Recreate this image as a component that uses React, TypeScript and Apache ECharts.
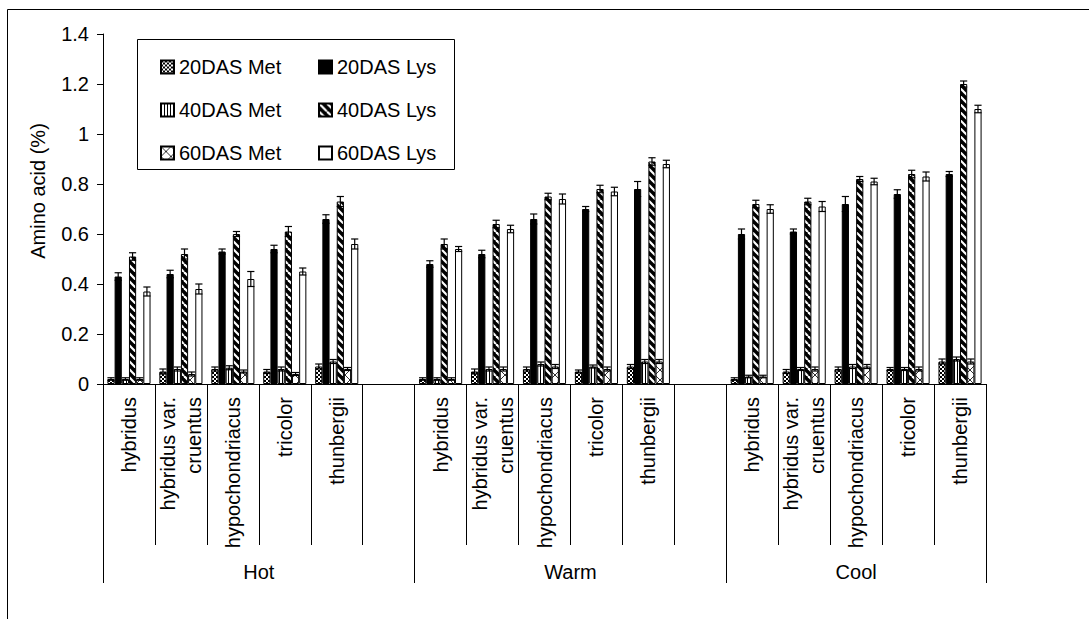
import React, { useEffect, useRef } from 'react';
import * as echarts from 'echarts';

const species = ['hybridus', 'hybridus var.\ncruentus', 'hypochondriacus', 'tricolor', 'thunbergii'];
const categories = [...species, '', ...species, '', ...species];
const groups = ['Hot', 'Warm', 'Cool'];
const groupBounds = [0, 6, 12, 17];
const groupCenters = [3, 9, 14.5];
const seriesNames = ['20DAS Met', '20DAS Lys', '40DAS Met', '40DAS Lys', '60DAS Met', '60DAS Lys'];

const met20 = [0.02, 0.05, 0.06, 0.05, 0.07, null, 0.02, 0.05, 0.06, 0.05, 0.07, null, 0.02, 0.05, 0.06, 0.06, 0.09];
const lys20 = [0.43, 0.44, 0.53, 0.54, 0.66, null, 0.48, 0.52, 0.66, 0.70, 0.78, null, 0.60, 0.61, 0.72, 0.76, 0.84];
const met40 = [0.02, 0.06, 0.065, 0.06, 0.09, null, 0.02, 0.06, 0.08, 0.07, 0.09, null, 0.03, 0.06, 0.07, 0.06, 0.10];
const lys40 = [0.51, 0.52, 0.60, 0.61, 0.73, null, 0.56, 0.64, 0.75, 0.78, 0.89, null, 0.72, 0.73, 0.82, 0.84, 1.20];
const met60 = [0.02, 0.04, 0.05, 0.04, 0.06, null, 0.02, 0.06, 0.07, 0.06, 0.09, null, 0.03, 0.06, 0.07, 0.06, 0.09];
const lys60 = [0.37, 0.38, 0.42, 0.45, 0.56, null, 0.54, 0.62, 0.74, 0.77, 0.88, null, 0.70, 0.71, 0.81, 0.83, 1.10];

const met20Err = [0.005, 0.01, 0.008, 0.008, 0.01, null, 0.005, 0.01, 0.008, 0.006, 0.008, null, 0.005, 0.008, 0.008, 0.006, 0.01];
const lys20Err = [0.015, 0.015, 0.01, 0.015, 0.017, null, 0.013, 0.015, 0.02, 0.01, 0.03, null, 0.02, 0.01, 0.03, 0.017, 0.01];
const met40Err = [0.005, 0.008, 0.008, 0.008, 0.008, null, 0.005, 0.008, 0.008, 0.006, 0.008, null, 0.005, 0.006, 0.008, 0.006, 0.008];
const lys40Err = [0.015, 0.02, 0.01, 0.02, 0.02, null, 0.02, 0.015, 0.013, 0.015, 0.015, null, 0.015, 0.013, 0.01, 0.015, 0.012];
const met60Err = [0.005, 0.008, 0.006, 0.006, 0.006, null, 0.005, 0.008, 0.008, 0.008, 0.008, null, 0.005, 0.008, 0.008, 0.008, 0.01];
const lys60Err = [0.018, 0.02, 0.03, 0.014, 0.02, null, 0.01, 0.015, 0.02, 0.017, 0.015, null, 0.017, 0.02, 0.013, 0.018, 0.015];

const values = [met20, lys20, met40, lys40, met60, lys60];
const errors = [met20Err, lys20Err, met40Err, lys40Err, met60Err, lys60Err];

const FONT = 'Liberation Sans, Arial, sans-serif';
const GAP = 0.17;

function makePattern(size: number, draw: (ctx: CanvasRenderingContext2D) => void) {
  const c = document.createElement('canvas');
  c.width = size;
  c.height = size;
  const ctx = c.getContext('2d') as CanvasRenderingContext2D;
  draw(ctx);
  return { image: c.toDataURL(), repeat: 'repeat', imageWidth: size, imageHeight: size };
}

function buildFills() {
  const checker = makePattern(4, (ctx) => {
    ctx.fillStyle = '#fff';
    ctx.fillRect(0, 0, 4, 4);
    ctx.fillStyle = '#000';
    ctx.fillRect(0, 0, 2, 2);
    ctx.fillRect(2, 2, 2, 2);
  });
  const vlines = makePattern(3, (ctx) => {
    ctx.fillStyle = '#fff';
    ctx.fillRect(0, 0, 3, 3);
    ctx.fillStyle = '#000';
    ctx.fillRect(0, 0, 1, 3);
  });
  const diag = makePattern(8, (ctx) => {
    ctx.fillStyle = '#000';
    ctx.fillRect(0, 0, 8, 8);
    ctx.strokeStyle = '#fff';
    ctx.lineWidth = 2.2;
    for (const x0 of [-8, 0, 8]) {
      ctx.beginPath();
      ctx.moveTo(x0, 0);
      ctx.lineTo(x0 + 8, 8);
      ctx.stroke();
    }
  });
  const cross = makePattern(10, (ctx) => {
    ctx.fillStyle = '#fff';
    ctx.fillRect(0, 0, 10, 10);
    ctx.strokeStyle = '#333';
    ctx.lineWidth = 1;
    for (const x0 of [-10, 0, 10]) {
      ctx.beginPath();
      ctx.moveTo(x0, 0);
      ctx.lineTo(x0 + 10, 10);
      ctx.stroke();
      ctx.beginPath();
      ctx.moveTo(x0 + 10, 0);
      ctx.lineTo(x0, 10);
      ctx.stroke();
    }
  });
  return [checker, '#000', vlines, diag, cross, '#fff'];
}

export default function App() {
  const ref = useRef<HTMLDivElement>(null);
  useEffect(() => {
    if (!ref.current) return;
    const chart = echarts.init(ref.current, undefined, { renderer: 'svg' });
    const fills = buildFills();

    const errData: any[] = [];
    values.forEach((arr, s) => {
      arr.forEach((v, i) => {
        if (v != null) errData.push([i, s, v, errors[s][i]]);
      });
    });

    const barSeries = seriesNames.map((name, s) => ({
      name,
      type: 'bar',
      data: values[s],
      barGap: '0%',
      barCategoryGap: GAP * 100 + '%',
      itemStyle: { color: fills[s], borderColor: '#000', borderWidth: 1 },
      emphasis: { disabled: true },
    }));

    const legendCommon = {
      orient: 'vertical',
      top: 52,
      itemWidth: 13,
      itemHeight: 13,
      itemGap: 23,
      selectedMode: false,
      icon: 'rect',
      textStyle: { fontSize: 20, color: '#000', fontFamily: FONT },
    };

    chart.setOption({
      animation: false,
      textStyle: { fontFamily: FONT },
      grid: { left: 103, right: 103, top: 34, bottom: 235, containLabel: false },
      legend: [
        { ...legendCommon, left: 155, data: ['20DAS Met', '40DAS Met', '60DAS Met'] },
        { ...legendCommon, left: 313, data: ['20DAS Lys', '40DAS Lys', '60DAS Lys'] },
      ],
      xAxis: [
        {
          type: 'category',
          data: categories,
          position: 'bottom',
          axisLine: { show: true, onZero: false, lineStyle: { color: '#000', width: 1 } },
          axisTick: { show: true, interval: 0, length: 161, lineStyle: { color: '#000' } },
          axisLabel: {
            interval: 0,
            rotate: 90,
            margin: 13,
            fontSize: 20,
            lineHeight: 26,
            color: '#000',
            fontFamily: FONT,
          },
          splitLine: { show: false },
        },
        {
          type: 'value',
          min: 0,
          max: 17,
          position: 'bottom',
          axisLine: { show: false, onZero: false },
          axisTick: { show: true, customValues: groupBounds, length: 199, lineStyle: { color: '#000' } },
          axisLabel: {
            customValues: groupCenters,
            formatter: (v: number) => groups[groupCenters.indexOf(v)] ?? '',
            margin: 178,
            fontSize: 20,
            color: '#000',
            fontFamily: FONT,
          },
          splitLine: { show: false },
        },
      ],
      yAxis: {
        type: 'value',
        min: 0,
        max: 1.4,
        interval: 0.2,
        axisLine: { show: true, lineStyle: { color: '#000', width: 1 } },
        axisTick: { show: true, length: 6, lineStyle: { color: '#000' } },
        axisLabel: { fontSize: 20, color: '#000', margin: 14, fontFamily: FONT },
        splitLine: { show: false },
      },
      graphic: [
        {
          type: 'rect',
          z: 0,
          shape: { x: 7.5, y: 9.5, width: 1200, height: 800 },
          style: { fill: 'none', stroke: '#000', lineWidth: 1 },
          silent: true,
        },
        {
          type: 'rect',
          z: 1,
          shape: { x: 137.5, y: 39.5, width: 317, height: 130 },
          style: { fill: '#fff', stroke: '#000', lineWidth: 1 },
          silent: true,
        },
        {
          type: 'text',
          x: 38,
          y: 191,
          rotation: Math.PI / 2,
          style: {
            text: 'Amino acid (%)',
            fontSize: 20,
            fontFamily: FONT,
            fill: '#000',
            align: 'center',
            verticalAlign: 'middle',
          },
        },
      ],
      series: [
        ...barSeries,
        {
          type: 'custom',
          name: 'err',
          xAxisIndex: 0,
          yAxisIndex: 0,
          z: 5,
          silent: true,
          data: errData,
          encode: { x: 0, y: 2 },
          renderItem: (params: any, api: any) => {
            const cat = api.value(0);
            const s = api.value(1);
            const v = api.value(2);
            const e = api.value(3);
            const band = api.size([1, 0])[0];
            const total = band * (1 - GAP);
            const bw = total / 6;
            const c = api.coord([cat, v]);
            const x = c[0] - total / 2 + bw * (s + 0.5);
            const yHi = api.coord([cat, v + e])[1];
            const yLo = api.coord([cat, v - e])[1];
            const hw = bw * 0.5;
            const st = { stroke: '#000', lineWidth: 1.2 };
            return {
              type: 'group',
              children: [
                { type: 'line', shape: { x1: x, y1: yHi, x2: x, y2: yLo }, style: st },
                { type: 'line', shape: { x1: x - hw, y1: yHi, x2: x + hw, y2: yHi }, style: st },
                { type: 'line', shape: { x1: x - hw, y1: yLo, x2: x + hw, y2: yLo }, style: st },
              ],
            };
          },
        },
      ],
    });
    return () => chart.dispose();
  }, []);
  return (
    <div
      ref={ref}
      style={{ position: 'absolute', left: 0, top: 0, width: 1089, height: 619, background: '#fff' }}
    />
  );
}
